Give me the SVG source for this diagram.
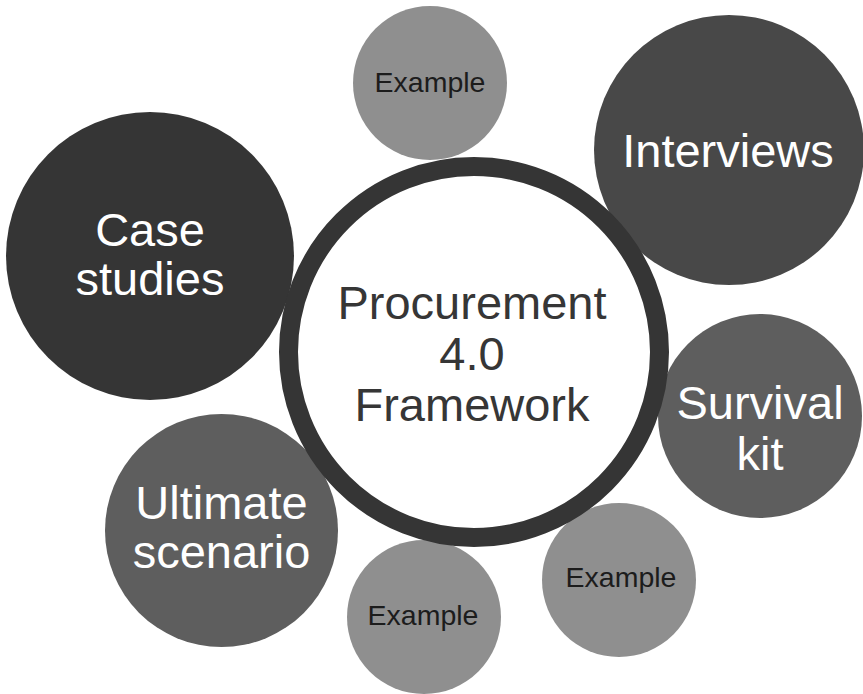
<svg xmlns="http://www.w3.org/2000/svg" width="863" height="694" viewBox="0 0 863 694">
  <style>
    text { font-family: "Liberation Sans", Arial, sans-serif; text-anchor: middle; }
    .big { font-size: 47px; fill: #ffffff; }
    .small { font-size: 28.5px; fill: #1c1c1c; }
    .hub { font-size: 47px; fill: #363636; }
    .example { fill: #8f8f8f; }
  </style>
  <rect width="863" height="694" fill="#ffffff"/>

  <g id="node-example-top">
    <circle class="example" cx="430" cy="83" r="77"/>
    <text class="small" x="430" y="92">Example</text>
  </g>

  <g id="node-interviews">
    <circle cx="729" cy="150" r="135" fill="#484848"/>
    <text class="big" x="728" y="167">Interviews</text>
  </g>

  <g id="node-case-studies">
    <circle cx="150" cy="256" r="144" fill="#353535"/>
    <text class="big" x="150" y="246">Case</text>
    <text class="big" x="150" y="295">studies</text>
  </g>

  <g id="node-survival-kit">
    <circle cx="760" cy="416" r="102" fill="#5e5e5e"/>
    <text class="big" x="760" y="419">Survival</text>
    <text class="big" x="760" y="470">kit</text>
  </g>

  <g id="node-ultimate-scenario">
    <circle cx="221.5" cy="530.5" r="116.5" fill="#5e5e5e"/>
    <text class="big" x="221.5" y="519">Ultimate</text>
    <text class="big" x="221.5" y="568">scenario</text>
  </g>

  <g id="node-example-bottom-right">
    <circle class="example" cx="619" cy="580" r="77"/>
    <text class="small" x="621" y="587">Example</text>
  </g>

  <g id="node-example-bottom">
    <circle class="example" cx="424" cy="617" r="77"/>
    <text class="small" x="423" y="625">Example</text>
  </g>

  <!-- central hub ring sits above the surrounding circles -->
  <g id="node-hub">
    <circle cx="474" cy="352" r="185.5" fill="#ffffff" stroke="#353535" stroke-width="19"/>
    <text class="hub" x="472" y="319">Procurement</text>
    <text class="hub" x="472" y="370">4.0</text>
    <text class="hub" x="472" y="421">Framework</text>
  </g>

  <g id="connectors"></g>
</svg>
